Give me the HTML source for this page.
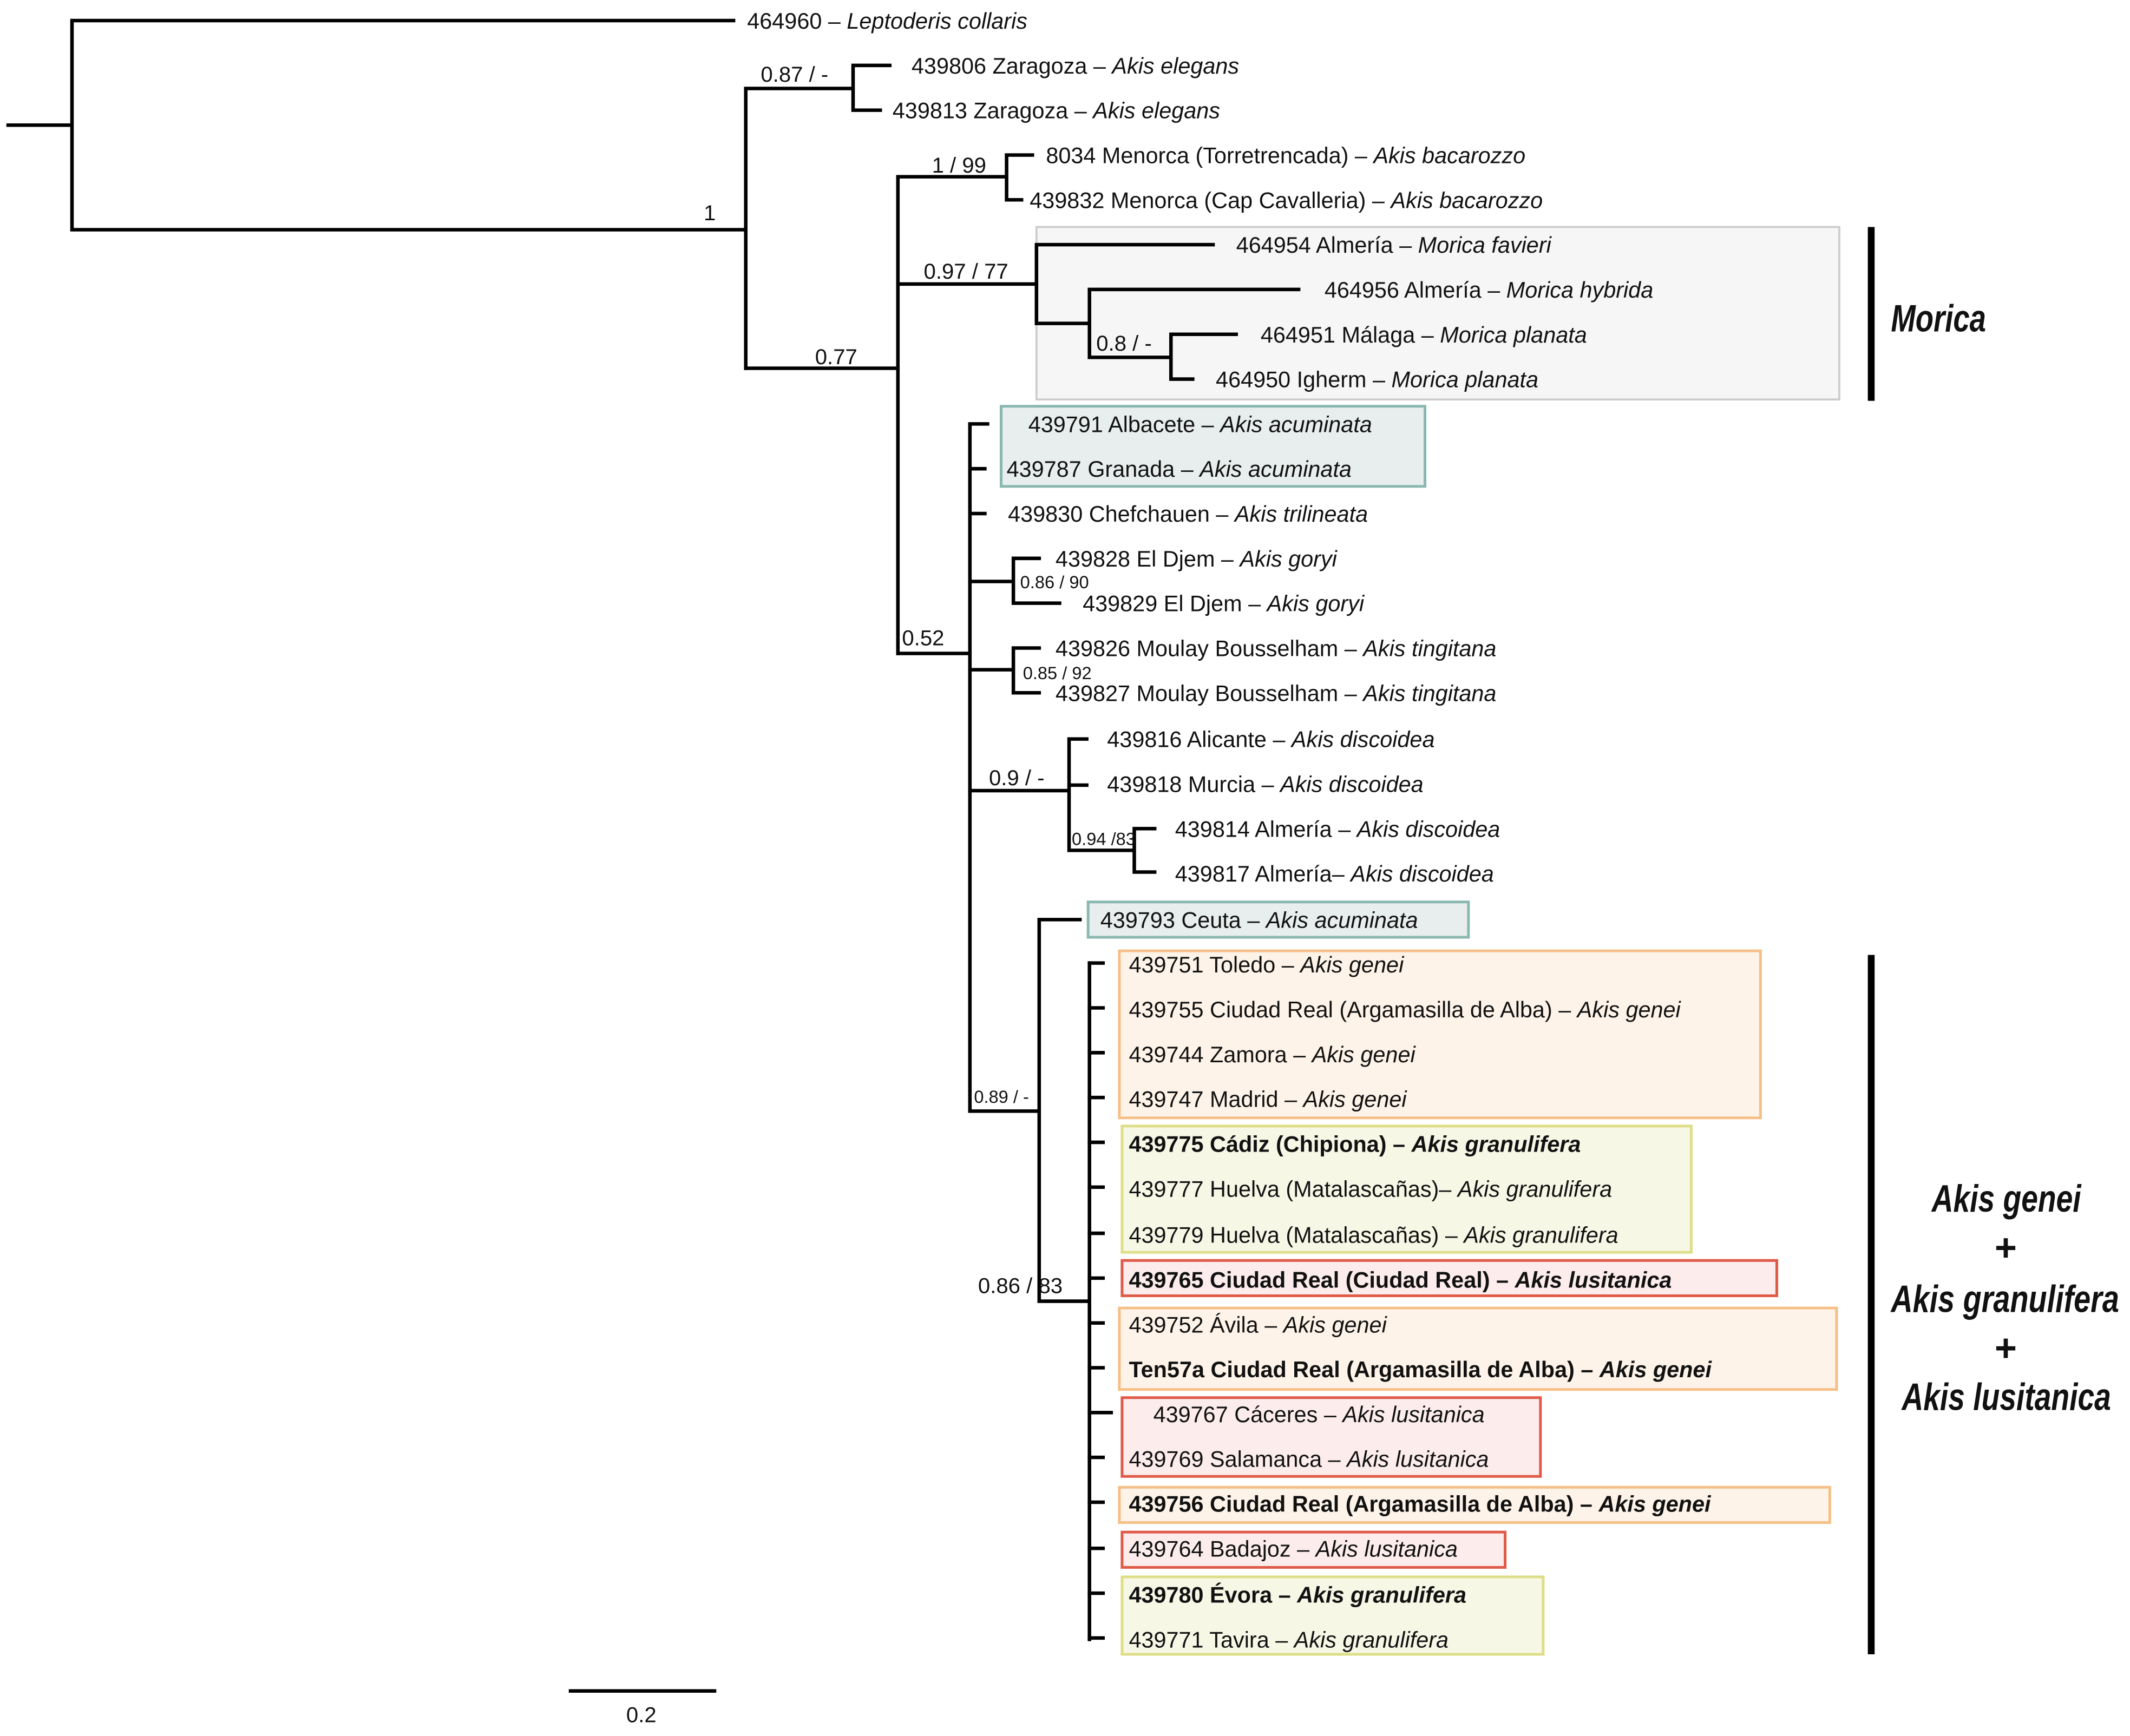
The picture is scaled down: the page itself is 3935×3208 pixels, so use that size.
<!DOCTYPE html>
<html><head><meta charset="utf-8">
<style>
html,body{margin:0;padding:0;background:#fff;}
svg{display:block;}
text{font-family:"Liberation Sans","DejaVu Sans",sans-serif;fill:#111;}
.t{font-size:16.5px;}
.s{font-size:16px;}
.xs{font-size:13px;}
.b{font-weight:bold;}
</style></head>
<body>
<svg width="3935" height="3208" viewBox="0 0 1568 1278" xmlns="http://www.w3.org/2000/svg">
<rect width="1568" height="1278" fill="#fff"/>
<!-- boxes -->
<rect x="763" y="167" width="591" height="127" fill="#f6f6f6" stroke="#cccccc" stroke-width="1.5"/>
<rect x="737" y="299" width="312" height="59" fill="#e8eeed" stroke="#8ab8b0" stroke-width="2"/>
<rect x="801" y="664" width="280" height="26" fill="#e8eeed" stroke="#8ab8b0" stroke-width="2"/>
<rect x="824" y="700" width="472" height="123" fill="#fdf3e8" stroke="#f5c088" stroke-width="2"/>
<rect x="826" y="829" width="419" height="93" fill="#f7f7e6" stroke="#dede88" stroke-width="2"/>
<rect x="826" y="928" width="482" height="26" fill="#fcecec" stroke="#e05a48" stroke-width="2"/>
<rect x="824" y="963" width="528" height="60" fill="#fdf3e8" stroke="#f5c088" stroke-width="2"/>
<rect x="826" y="1029" width="308" height="58" fill="#fcecec" stroke="#e05a48" stroke-width="2"/>
<rect x="824" y="1095" width="523" height="26" fill="#fdf3e8" stroke="#f5c088" stroke-width="2"/>
<rect x="826" y="1128" width="282" height="26" fill="#fcecec" stroke="#e05a48" stroke-width="2"/>
<rect x="826" y="1161" width="310" height="57" fill="#f7f7e6" stroke="#dede88" stroke-width="2"/>

<g stroke="#000" stroke-width="2.6" fill="none" stroke-linecap="square">
<path d="M6 92H53M53 15V169M53 15H540M53 169H549"/>
<path d="M549 65V271M549 65H628M628 48V81M628 48H655M628 81H648"/>
<path d="M549 271H661M661 130V481M661 130H741M741 114V147M741 114H760M741 147H752"/>
<path d="M661 209H763M763 180V238M763 180H893M763 238H802M802 213V263M802 213H956M802 263H862M862 246V279M862 246H910M862 279H878"/>
<path d="M661 481H714M714 312V818M714 312H727M714 345H725M714 378H725"/>
<path d="M714 428H746M746 411V444M746 411H765M746 444H780"/>
<path d="M714 493H746M746 477V510M746 477H765M746 510H765"/>
<path d="M714 582H787M787 544V626M787 544H800M787 578H800M787 626H835M835 610V642M835 610H850M835 642H850"/>
<path d="M714 818H765M765 677V958M765 677H795M765 958H802M802 709V1207"/>
<path d="M802 709H812M802 742H812M802 775H812M802 808H812M802 841H812M802 874H812M802 908H812M802 941H812M802 974H812M802 1007H812M802 1040H818M802 1073H812M802 1106H812M802 1140H812M802 1173H812M802 1206H812"/>
<path d="M420 1245H526"/>
</g>
<rect x="1375" y="167" width="5" height="128" fill="#000"/>
<rect x="1375" y="703" width="5" height="515" fill="#000"/>

<!-- support labels -->
<text class="s" x="518" y="162">1</text>
<text class="s" x="560" y="60">0.87 / -</text>
<text class="s" x="686" y="127">1 / 99</text>
<text class="s" x="680" y="205">0.97 / 77</text>
<text class="s" x="600" y="268">0.77</text>
<text class="s" x="807" y="258">0.8 / -</text>
<text class="s" x="664" y="475">0.52</text>
<text class="xs" x="751" y="433">0.86 / 90</text>
<text class="xs" x="753" y="500">0.85 / 92</text>
<text class="s" x="728" y="578">0.9 / -</text>
<text class="xs" x="789" y="622">0.94 /83</text>
<text class="xs" x="717" y="812">0.89 / -</text>
<text class="s" x="720" y="952">0.86 / 83</text>
<text class="s" x="461" y="1268">0.2</text>

<!-- leaf labels -->
<g class="t">
<text x="550" y="21">464960 – <tspan font-style="italic">Leptoderis collaris</tspan></text>
<text x="671" y="54">439806 Zaragoza – <tspan font-style="italic">Akis elegans</tspan></text>
<text x="657" y="87">439813 Zaragoza – <tspan font-style="italic">Akis elegans</tspan></text>
<text x="770" y="120">8034 Menorca (Torretrencada) – <tspan font-style="italic">Akis bacarozzo</tspan></text>
<text x="758" y="153">439832 Menorca (Cap Cavalleria) – <tspan font-style="italic">Akis bacarozzo</tspan></text>
<text x="910" y="186">464954 Almería – <tspan font-style="italic">Morica favieri</tspan></text>
<text x="975" y="219">464956 Almería – <tspan font-style="italic">Morica hybrida</tspan></text>
<text x="928" y="252">464951 Málaga – <tspan font-style="italic">Morica planata</tspan></text>
<text x="895" y="285">464950 Igherm – <tspan font-style="italic">Morica planata</tspan></text>
<text x="757" y="318">439791 Albacete – <tspan font-style="italic">Akis acuminata</tspan></text>
<text x="741" y="351">439787 Granada – <tspan font-style="italic">Akis acuminata</tspan></text>
<text x="742" y="384">439830 Chefchauen – <tspan font-style="italic">Akis trilineata</tspan></text>
<text x="777" y="417">439828 El Djem – <tspan font-style="italic">Akis goryi</tspan></text>
<text x="797" y="450">439829 El Djem – <tspan font-style="italic">Akis goryi</tspan></text>
<text x="777" y="483">439826 Moulay Bousselham – <tspan font-style="italic">Akis tingitana</tspan></text>
<text x="777" y="516">439827 Moulay Bousselham – <tspan font-style="italic">Akis tingitana</tspan></text>
<text x="815" y="550">439816 Alicante – <tspan font-style="italic">Akis discoidea</tspan></text>
<text x="815" y="583">439818 Murcia – <tspan font-style="italic">Akis discoidea</tspan></text>
<text x="865" y="616">439814 Almería – <tspan font-style="italic">Akis discoidea</tspan></text>
<text x="865" y="649">439817 Almería– <tspan font-style="italic">Akis discoidea</tspan></text>
<text x="810" y="683">439793 Ceuta – <tspan font-style="italic">Akis acuminata</tspan></text>
<text x="831" y="716">439751 Toledo – <tspan font-style="italic">Akis genei</tspan></text>
<text x="831" y="749">439755 Ciudad Real (Argamasilla de Alba) – <tspan font-style="italic">Akis genei</tspan></text>
<text x="831" y="782">439744 Zamora – <tspan font-style="italic">Akis genei</tspan></text>
<text x="831" y="815">439747 Madrid – <tspan font-style="italic">Akis genei</tspan></text>
<text x="831" y="848" class="b">439775 Cádiz (Chipiona) – <tspan font-style="italic">Akis granulifera</tspan></text>
<text x="831" y="881">439777 Huelva (Matalascañas)– <tspan font-style="italic">Akis granulifera</tspan></text>
<text x="831" y="915">439779 Huelva (Matalascañas) – <tspan font-style="italic">Akis granulifera</tspan></text>
<text x="831" y="948" class="b">439765 Ciudad Real (Ciudad Real) – <tspan font-style="italic">Akis lusitanica</tspan></text>
<text x="831" y="981">439752 Ávila – <tspan font-style="italic">Akis genei</tspan></text>
<text x="831" y="1014" class="b">Ten57a Ciudad Real (Argamasilla de Alba) – <tspan font-style="italic">Akis genei</tspan></text>
<text x="849" y="1047">439767 Cáceres – <tspan font-style="italic">Akis lusitanica</tspan></text>
<text x="831" y="1080">439769 Salamanca – <tspan font-style="italic">Akis lusitanica</tspan></text>
<text x="831" y="1113" class="b">439756 Ciudad Real (Argamasilla de Alba) – <tspan font-style="italic">Akis genei</tspan></text>
<text x="831" y="1146">439764 Badajoz – <tspan font-style="italic">Akis lusitanica</tspan></text>
<text x="831" y="1180" class="b">439780 Évora – <tspan font-style="italic">Akis granulifera</tspan></text>
<text x="831" y="1213">439771 Tavira – <tspan font-style="italic">Akis granulifera</tspan></text>
</g>

<!-- clade labels -->
<g font-weight="bold" font-style="italic" font-size="28">
<text x="1392" y="244" textLength="70" lengthAdjust="spacingAndGlyphs">Morica</text>
<text x="1422" y="892" textLength="110" lengthAdjust="spacingAndGlyphs">Akis genei</text>
<text x="1476" y="928" text-anchor="middle">+</text>
<text x="1392" y="966" textLength="168" lengthAdjust="spacingAndGlyphs">Akis granulifera</text>
<text x="1476" y="1002" text-anchor="middle">+</text>
<text x="1400" y="1038" textLength="154" lengthAdjust="spacingAndGlyphs">Akis lusitanica</text>
</g>
</svg>
</body></html>
